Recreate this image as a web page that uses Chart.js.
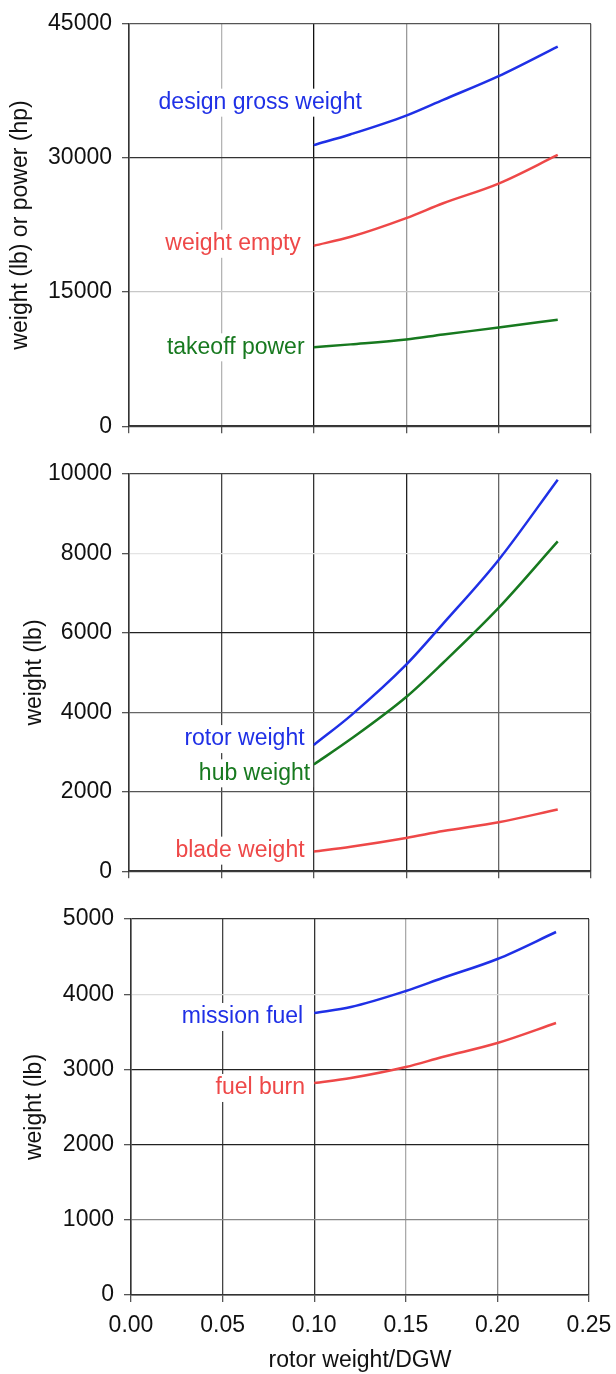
<!DOCTYPE html>
<html>
<head>
<meta charset="utf-8">
<script src="https://cdn.jsdelivr.net/npm/chart.js@4/dist/chart.umd.min.js"></script>
<style>
  body { margin: 0; background: #fff; }
  canvas { position: absolute; left: 0; }
</style>
</head>
<body>
<canvas id="c1" width="616" height="450" style="top:0"></canvas>
<canvas id="c2" width="616" height="445" style="top:450px"></canvas>
<canvas id="c3" width="616" height="479" style="top:895px"></canvas>
<script>
// rotor weight / DGW sample points
var ratio = [0.10, 0.12, 0.15, 0.17, 0.20, 0.232];
var xTicks = [0, 0.05, 0.10, 0.15, 0.20, 0.25];

// top panel: weights and power
var designGrossWeight = [31430, 32650, 34740, 36500, 39150, 42460];
var weightEmpty = [20180, 21180, 23270, 24930, 27130, 30330];
var takeoffPower = [8820, 9150, 9700, 10260, 11030, 11910];
var yTicks1 = [0, 15000, 30000, 45000];

// middle panel: rotor weights
var rotorWeight = [3177, 3916, 5197, 6230, 7833, 9852];
var hubWeight = [2685, 3325, 4384, 5246, 6626, 8300];
var bladeWeight = [493, 616, 837, 1010, 1231, 1552];
var yTicks2 = [0, 2000, 4000, 6000, 8000, 10000];

// bottom panel: fuel
var missionFuel = [3750, 3830, 4043, 4215, 4468, 4827];
var fuelBurn = [2819, 2886, 3032, 3165, 3351, 3617];
var yTicks3 = [0, 1000, 2000, 3000, 4000, 5000];

var BLUE = '#1f30e6', RED = '#ee4848', GREEN = '#17791f';
var FONT = '"Liberation Sans", Arial, Helvetica, sans-serif';
var FS = 23;

function pts(vals) {
  return vals.map(function (v, i) { return { x: ratio[i], y: v }; });
}

// inline curve labels, drawn with a white box behind them
var curveLabels = {
  id: 'curveLabels',
  afterDraw: function (chart, args, opts) {
    var ctx = chart.ctx, xs = chart.scales.x, ys = chart.scales.y;
    ctx.save();
    ctx.font = FS + 'px ' + FONT;
    ctx.textAlign = 'right';
    ctx.textBaseline = 'middle';
    (opts.items || []).forEach(function (it) {
      var px = xs.getPixelForValue(it.x), py = ys.getPixelForValue(it.y);
      var w = ctx.measureText(it.text).width;
      ctx.fillStyle = '#fff';
      ctx.fillRect(px - w - 3, py - 14, w + 6, 28);
      ctx.fillStyle = it.color;
      ctx.fillText(it.text, px, py);
    });
    ctx.restore();
  }
};

function gridColor(map, key) {
  return function (c) {
    var k = Math.round(c.tick.value * key);
    return map[k] || '#444';
  };
}

function makePanel(id, p) {
  return new Chart(document.getElementById(id), {
    type: 'line',
    data: {
      datasets: p.series.map(function (s) {
        return {
          data: pts(s.values),
          borderColor: s.color,
          borderWidth: 2.5,
          pointRadius: 0,
          cubicInterpolationMode: 'monotone',
          fill: false
        };
      })
    },
    options: {
      responsive: false,
      animation: false,
      devicePixelRatio: 1,
      layout: { padding: { top: p.top, right: p.right, left: 0, bottom: 0 } },
      plugins: {
        legend: { display: false },
        tooltip: { enabled: false },
        curveLabels: { items: p.labels }
      },
      scales: {
        x: {
          type: 'linear',
          min: 0,
          max: 0.25,
          afterBuildTicks: function (s) { s.ticks = xTicks.map(function (v) { return { value: v }; }); },
          afterFit: function (s) {
            s.height = p.xh;
            // let the last tick label run past the plot edge, as in the original
            s.paddingLeft = 0;
            s.paddingRight = 0;
          },
          ticks: {
            display: p.showX,
            padding: 10,
            color: '#111',
            font: { family: FONT, size: FS },
            callback: function (v) { return Number(v).toFixed(2); }
          },
          title: {
            display: p.showX,
            text: 'rotor weight/DGW',
            color: '#111',
            font: { family: FONT, size: FS },
            padding: { top: 0, bottom: 0 }
          },
          grid: { color: gridColor(p.xGrid, 100), tickLength: 7, tickColor: '#555', lineWidth: 1.3 },
          border: { color: '#333', width: 1.5 }
        },
        y: {
          min: 0,
          max: p.yTicks[p.yTicks.length - 1],
          afterBuildTicks: function (s) { s.ticks = p.yTicks.map(function (v) { return { value: v }; }); },
          afterFit: function (s) { s.width = p.yw; },
          ticks: {
            padding: 10,
            color: '#111',
            font: { family: FONT, size: FS },
            callback: function (v) { return String(v); }
          },
          title: {
            display: true,
            text: p.yTitle,
            color: '#111',
            font: { family: FONT, size: FS },
            padding: { top: p.titlePad, bottom: 0 }
          },
          grid: { color: gridColor(p.yGrid, 1), tickLength: 7, tickColor: '#555', lineWidth: 1.3 },
          border: { color: '#333', width: 1.5 }
        }
      }
    },
    plugins: [curveLabels]
  });
}

makePanel('c1', {
  top: 20, right: 25, xh: 22, yw: 129, titlePad: 7, showX: false,
  yTitle: 'weight (lb) or power (hp)',
  yTicks: yTicks1,
  series: [
    { values: designGrossWeight, color: BLUE },
    { values: weightEmpty, color: RED },
    { values: takeoffPower, color: GREEN }
  ],
  labels: [
    { text: 'design gross weight', color: BLUE, x: 0.126, y: 36180 },
    { text: 'weight empty', color: RED, x: 0.093, y: 20400 },
    { text: 'takeoff power', color: GREEN, x: 0.095, y: 8820 }
  ],
  xGrid: { 5: '#b4b4b4', 10: '#111', 15: '#9a9a9a', 20: '#333', 25: '#555' },
  yGrid: { 15000: '#c8c8c8', 30000: '#333', 45000: '#555' }
});

makePanel('c2', {
  top: 22, right: 25, xh: 17, yw: 129, titlePad: 21, showX: false,
  yTitle: 'weight (lb)',
  yTicks: yTicks2,
  series: [
    { values: rotorWeight, color: BLUE },
    { values: hubWeight, color: GREEN },
    { values: bladeWeight, color: RED }
  ],
  labels: [
    { text: 'rotor weight', color: BLUE, x: 0.095, y: 3325 },
    { text: 'hub weight', color: GREEN, x: 0.098, y: 2463 },
    { text: 'blade weight', color: RED, x: 0.095, y: 517 }
  ],
  xGrid: { 5: '#444', 10: '#333', 15: '#222', 20: '#666', 25: '#444' },
  yGrid: { 2000: '#555', 4000: '#666', 6000: '#222', 8000: '#e4e4e4', 10000: '#444' }
});

makePanel('c3', {
  top: 24, right: 27, xh: 79, yw: 131, titlePad: 21, showX: true,
  yTitle: 'weight (lb)',
  yTicks: yTicks3,
  series: [
    { values: missionFuel, color: BLUE },
    { values: fuelBurn, color: RED }
  ],
  labels: [
    { text: 'mission fuel', color: BLUE, x: 0.094, y: 3697 },
    { text: 'fuel burn', color: RED, x: 0.095, y: 2753 }
  ],
  xGrid: { 5: '#444', 10: '#333', 15: '#aaa', 20: '#888', 25: '#444' },
  yGrid: { 1000: '#888', 2000: '#222', 3000: '#222', 4000: '#dcdcdc', 5000: '#333' }
});
</script>
</body>
</html>
